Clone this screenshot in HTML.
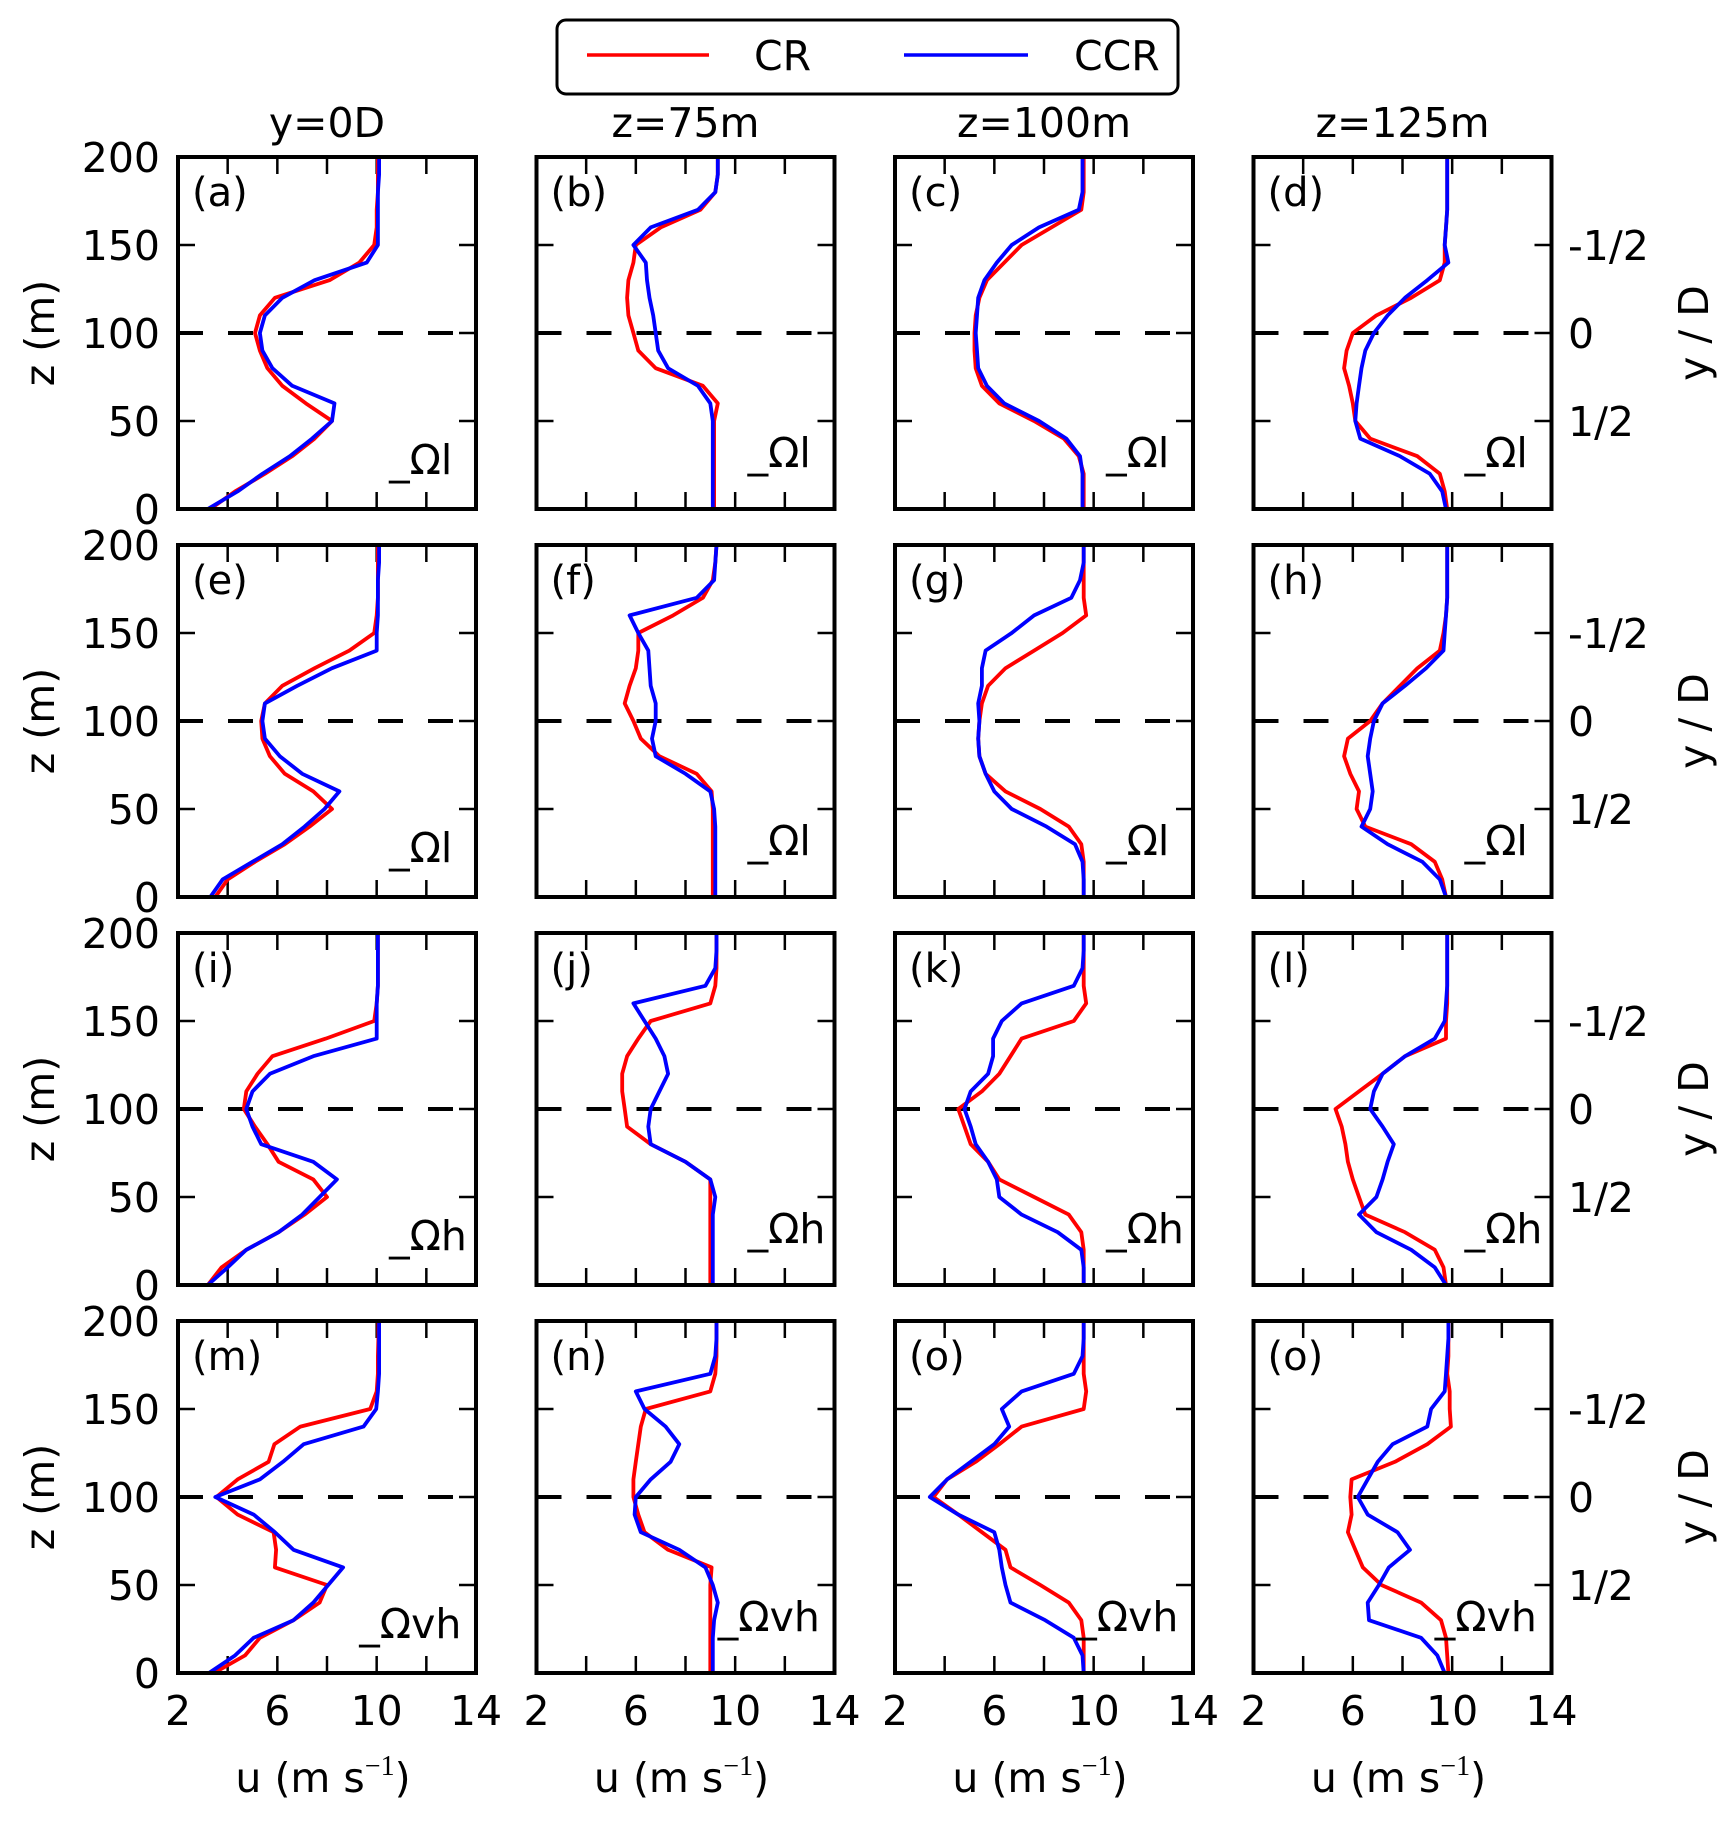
<!DOCTYPE html>
<html><head><meta charset="utf-8"><style>
html,body{margin:0;padding:0;background:#fff;}
svg text{font-family:"DejaVu Sans","Liberation Sans",sans-serif;}
</style></head><body>
<svg id="fig" xmlns="http://www.w3.org/2000/svg" width="1728" height="1819" viewBox="0 0 1728 1819">
<rect width="1728" height="1819" fill="#fff"/>
<g>
<rect x="557" y="20" width="621" height="74" rx="9" fill="#fff" stroke="#000" stroke-width="3"/>
<line x1="587" y1="55" x2="709" y2="55" stroke="#ff0000" stroke-width="3.5"/>
<text x="754" y="70" font-size="41">CR</text>
<line x1="904" y1="55" x2="1028" y2="55" stroke="#0000ff" stroke-width="3.5"/>
<text x="1074" y="70" font-size="41">CCR</text>
</g>
</svg>
<script>
const zGrid = [0,10,20,30,40,50,60,70,80,90,100,110,120,130,140,150,160,170,180,190,200];
const xTicks = [2,6,10,14];
const yTicks = [0,50,100,150,200];
const rightTickLabels = ["1/2","0","-1/2"];
const colTitles = ["y=0D","z=75m","z=100m","z=125m"];
const panelLabels = ["(a)","(b)","(c)","(d)","(e)","(f)","(g)","(h)","(i)","(j)","(k)","(l)","(m)","(n)","(o)","(o)"];
const rowNotes = ["_\u03A9l","_\u03A9l","_\u03A9h","_\u03A9vh"];
const crProfiles = [
[3.3,4.3,5.5,6.6,7.5,8.2,7.15,6.2,5.6,5.3,5.1,5.3,5.9,8.1,9.3,9.9,10.0,10.0,10.05,10.05,10.05],
[9.15,9.15,9.15,9.15,9.15,9.15,9.3,8.7,6.8,6.1,5.9,5.7,5.65,5.7,5.9,6.0,7.0,8.6,9.2,9.3,9.3],
[9.6,9.6,9.6,9.4,8.8,7.6,6.2,5.5,5.25,5.2,5.2,5.25,5.4,5.7,6.4,7.1,8.3,9.5,9.6,9.6,9.6],
[9.8,9.7,9.5,8.6,6.7,6.1,6.0,5.85,5.65,5.75,6.0,6.95,8.35,9.5,9.7,9.7,9.75,9.8,9.8,9.8,9.8],
[3.5,4.0,5.1,6.3,7.3,8.2,7.45,6.3,5.7,5.4,5.35,5.5,6.2,7.5,8.9,9.9,10.0,10.05,10.05,10.05,10.05],
[9.1,9.1,9.1,9.1,9.1,9.1,9.05,8.45,6.95,6.2,5.9,5.55,5.75,6.0,6.1,6.1,7.5,8.7,9.1,9.2,9.25],
[9.6,9.6,9.6,9.5,9.0,7.85,6.45,5.65,5.4,5.35,5.4,5.5,5.75,6.45,7.6,8.75,9.7,9.6,9.6,9.6,9.6],
[9.75,9.6,9.3,8.35,6.5,6.15,6.25,5.9,5.65,5.8,6.7,7.2,7.9,8.6,9.5,9.65,9.75,9.8,9.8,9.8,9.8],
[3.2,3.75,4.75,6.05,7.1,8.0,7.45,6.05,5.6,5.1,4.65,4.75,5.2,5.8,7.95,9.9,10.0,10.05,10.05,10.05,10.05],
[9.0,9.0,9.0,9.0,9.0,9.0,9.0,8.0,6.6,5.65,5.55,5.45,5.45,5.65,6.1,6.6,9.0,9.2,9.25,9.25,9.25],
[9.6,9.6,9.6,9.5,9.0,7.6,6.2,5.75,5.05,4.8,4.55,5.5,6.2,6.65,7.1,9.2,9.7,9.6,9.6,9.6,9.6],
[9.75,9.65,9.3,8.1,6.5,6.25,6.0,5.8,5.7,5.55,5.3,6.25,7.2,8.1,9.75,9.75,9.8,9.8,9.8,9.8,9.8],
[3.45,4.7,5.3,6.65,7.7,8.0,5.9,5.95,5.85,4.4,3.55,4.4,5.65,5.88,6.93,9.74,10.0,10.05,10.05,10.07,10.07],
[9.0,9.0,9.0,9.0,9.0,9.0,9.05,7.3,6.35,6.1,5.9,5.9,6.0,6.1,6.2,6.4,9.0,9.2,9.25,9.25,9.25],
[9.6,9.6,9.6,9.5,9.0,7.85,6.65,6.45,5.5,4.55,3.55,4.1,5.25,6.2,7.1,9.6,9.7,9.6,9.6,9.6,9.6],
[9.85,9.8,9.75,9.55,8.75,7.15,6.4,6.1,5.8,5.95,5.9,5.95,7.7,9.0,9.95,9.9,9.9,9.8,9.85,9.85,9.85]
];
const ccrProfiles = [
[3.2,4.4,5.4,6.5,7.4,8.2,8.3,6.6,5.8,5.4,5.3,5.5,6.2,7.5,9.6,10.05,10.05,10.05,10.05,10.1,10.1],
[9.1,9.1,9.1,9.1,9.1,9.1,9.0,8.5,7.3,6.9,6.8,6.7,6.55,6.45,6.4,5.9,6.6,8.5,9.2,9.3,9.3],
[9.55,9.55,9.55,9.45,8.9,7.8,6.4,5.7,5.35,5.3,5.25,5.3,5.35,5.6,6.1,6.7,7.8,9.4,9.55,9.55,9.55],
[9.75,9.6,9.1,7.9,6.3,6.1,6.15,6.25,6.35,6.5,6.85,7.4,8.1,9.0,9.85,9.7,9.75,9.8,9.8,9.8,9.8],
[3.3,3.8,5.0,6.2,7.1,7.9,8.5,7.0,6.1,5.5,5.4,5.5,6.8,8.2,10.0,10.0,10.05,10.05,10.05,10.1,10.1],
[9.2,9.2,9.2,9.2,9.2,9.15,9.0,8.0,6.8,6.65,6.8,6.8,6.6,6.55,6.5,6.1,5.75,8.45,9.15,9.2,9.25],
[9.6,9.6,9.55,9.25,8.1,6.7,6.0,5.65,5.4,5.35,5.4,5.35,5.5,5.5,5.65,6.7,7.6,9.1,9.45,9.6,9.6],
[9.75,9.5,8.8,7.4,6.35,6.7,6.8,6.7,6.6,6.7,6.85,7.2,8.1,8.95,9.65,9.7,9.75,9.8,9.8,9.8,9.8],
[3.2,4.0,4.75,6.05,7.0,7.7,8.4,7.45,5.35,5.0,4.75,5.0,5.7,7.45,10.0,10.0,10.0,10.05,10.05,10.05,10.05],
[9.1,9.1,9.1,9.1,9.1,9.2,9.0,8.0,6.6,6.5,6.6,6.95,7.3,7.15,6.8,6.35,5.9,8.8,9.2,9.25,9.25],
[9.6,9.6,9.5,8.55,7.1,6.2,6.1,5.75,5.25,5.05,4.8,5.05,5.75,5.95,5.95,6.3,7.1,9.2,9.55,9.6,9.6],
[9.75,9.3,8.35,6.95,6.25,6.95,7.2,7.4,7.65,7.2,6.7,6.85,7.2,8.1,9.3,9.7,9.75,9.8,9.8,9.8,9.8],
[3.25,4.3,5.05,6.65,7.45,8.05,8.65,6.65,5.9,5.05,3.5,5.3,6.23,7.06,9.47,9.98,10.05,10.1,10.1,10.1,10.1],
[9.1,9.1,9.1,9.15,9.3,9.1,8.8,7.75,6.2,5.95,6.0,6.6,7.4,7.75,7.2,6.35,6.0,9.0,9.2,9.25,9.25],
[9.6,9.55,9.2,8.05,6.65,6.45,6.3,6.2,6.0,4.55,3.4,4.1,5.05,6.0,6.6,6.3,7.1,9.2,9.55,9.6,9.6],
[9.7,9.4,8.75,6.65,6.6,7.05,7.45,8.3,7.8,6.6,6.2,6.6,7.0,7.6,9.0,9.15,9.7,9.75,9.8,9.85,9.85]
];

const NS = "http://www.w3.org/2000/svg";
const svg = document.getElementById("fig");
const LEFTS = [178, 536.5, 895, 1253.5], TOPS = [157, 545, 933, 1321];
const PW = 298, PH = 352, UMIN = 2, UMAX = 14, ZMIN = 0, ZMAX = 200;
const FS = 41;
function mk(tag, attrs, parent) {
  const e = document.createElementNS(NS, tag);
  for (const k in attrs) e.setAttribute(k, attrs[k]);
  (parent || svg).appendChild(e);
  return e;
}
function xs(c, u) { return LEFTS[c] + (u - UMIN) / (UMAX - UMIN) * PW; }
function ys(r, z) { return TOPS[r] + (ZMAX - z) / (ZMAX - ZMIN) * PH; }

colTitles.forEach((t, c) => {
  const e = mk("text", {x: LEFTS[c] + PW / 2, y: 137, "font-size": FS, "text-anchor": "middle"});
  
  
  e.textContent = t;
});

for (let r = 0; r < 4; r++) {
  for (let c = 0; c < 4; c++) {
    const idx = r * 4 + c;
    const g = mk("g", {});
    
    
    const L = LEFTS[c], T = TOPS[r];
    const dl = mk("line", {x1: L, x2: L + PW, y1: ys(r, 100), y2: ys(r, 100), stroke: "#000", "stroke-width": 4, "stroke-dasharray": "25,25"}, g);
    
    
    [4, 6, 8, 10, 12].forEach(u => {
      mk("line", {x1: xs(c, u), x2: xs(c, u), y1: T, y2: T + 17, stroke: "#000", "stroke-width": 2.5}, g);
      mk("line", {x1: xs(c, u), x2: xs(c, u), y1: T + PH, y2: T + PH - 17, stroke: "#000", "stroke-width": 2.5}, g);
    });
    [50, 100, 150].forEach(z => {
      mk("line", {x1: L, x2: L + 17, y1: ys(r, z), y2: ys(r, z), stroke: "#000", "stroke-width": 2.5}, g);
      mk("line", {x1: L + PW, x2: L + PW - 17, y1: ys(r, z), y2: ys(r, z), stroke: "#000", "stroke-width": 2.5}, g);
    });
    [[crProfiles[idx], "#ff0000", "cr-profile"], [ccrProfiles[idx], "#0000ff", "ccr-profile"]].forEach(([vals, col, nm]) => {
      const d = vals.map((u, i) => (i ? "L" : "M") + xs(c, u).toFixed(1) + "," + ys(r, zGrid[i]).toFixed(1)).join(" ");
      const p = mk("path", {d: d, fill: "none", stroke: col, "stroke-width": 3.8, "stroke-linejoin": "round"}, g);
      
      
    });
    const fr = mk("rect", {x: L, y: T, width: PW, height: PH, fill: "none", stroke: "#000", "stroke-width": 4}, g);
    
    
    const pl = mk("text", {x: L + 14, y: T + 49, "font-size": 40}, g);
    
    
    pl.textContent = panelLabels[idx];
    const nu = r === 3 ? 9.3 : 10.5;
    const nz = (c === 0 ? 20 : 24);
    const nt = mk("text", {x: xs(c, nu), y: ys(r, nz), "font-size": FS}, g);
    
    
    nt.textContent = rowNotes[r];
    if (c === 0) {
      yTicks.forEach(z => {
        const t = mk("text", {x: 160, y: ys(r, z) + 15, "font-size": FS, "text-anchor": "end"});
        
        
        t.textContent = z;
      });
      const cy = T + PH / 2;
      const yl = mk("text", {x: 54, y: cy, "font-size": FS, "text-anchor": "middle", transform: "rotate(-90 54 " + cy + ")"});
      
      
      yl.textContent = "z (m)";
    }
    if (c === 3) {
      [50, 100, 150].forEach((z, k) => {
        const t = mk("text", {x: 1568, y: ys(r, z) + 15, "font-size": FS});
        
        
        t.textContent = rightTickLabels[k];
      });
      const cy = T + PH / 2;
      const rl = mk("text", {x: 1708, y: cy, "font-size": FS, "text-anchor": "middle", transform: "rotate(-90 1708 " + cy + ")"});
      
      
      rl.textContent = "y / D";
    }
    if (r === 3) {
      xTicks.forEach(u => {
        const t = mk("text", {x: xs(c, u), y: 1725, "font-size": FS, "text-anchor": "middle"});
        
        
        t.textContent = u;
      });
      const xl = mk("text", {x: L + PW / 2 - 4, y: 1792, "font-size": FS, "text-anchor": "middle"});
      
      
      xl.innerHTML = 'u (m s<tspan font-family="Liberation Serif, serif" font-size="28" dy="-17">\u22121</tspan><tspan dy="17">)</tspan>';
    }
  }
}
</script>
</body></html>
